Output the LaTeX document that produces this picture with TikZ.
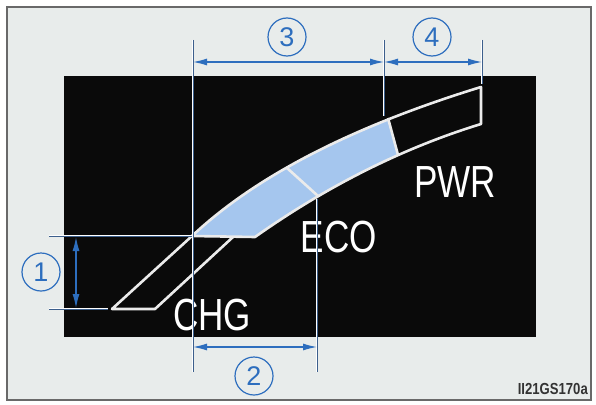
\documentclass[tikz,border=0pt]{standalone}
\usepackage{fontspec}
\setmainfont{Liberation Sans}
\newfontfamily\gaugefont[FakeStretch=0.78]{Liberation Sans}
\newfontfamily\codefont[FakeStretch=0.82]{Liberation Sans}
\usetikzlibrary{arrows.meta}
\definecolor{framegray}{RGB}{105,105,105}
\definecolor{panelbg}{RGB}{232,236,235}
\definecolor{gaugeblue}{RGB}{165,198,238}
\definecolor{dimblue}{RGB}{45,110,190}
\definecolor{dimgrey}{RGB}{60,95,140}

\begin{document}
\begin{tikzpicture}[x=1pt,y=-1pt,
    dimline/.style={draw=dimgrey, line width=0.8pt, preaction={draw=white, line width=1.8pt}},
    dimarrow/.style={{Latex[length=14pt,width=7pt]}-{Latex[length=14pt,width=7pt]}, draw=dimblue, line width=1.2pt},
    callout/.style={circle, draw=dimblue, line width=1.2pt, minimum size=38pt, inner sep=0pt, text=dimblue, font=\fontsize{27}{27}\selectfont},
    modelabel/.style={text=white, inner sep=0pt, anchor=base, font=\gaugefont\fontsize{45}{45}\selectfont},
    segline/.style={draw=white!92!black, line width=2.6pt, line join=round}]
    \useasboundingbox (0,0) rectangle (596,404);
    \draw[draw=framegray, line width=2pt, fill=panelbg] (7,7) rectangle (591,400);
    \fill[black!96] (64,76) rectangle (536,337);

    % gauge strip
    \coordinate (chgA) at (112,309);
    \coordinate (chgB) at (155,309);
    \coordinate (chgC) at (233,237);
    \coordinate (topL) at (192,236);
    \coordinate (botL) at (255,237);
    \coordinate (topR) at (481,87);
    \coordinate (botR) at (481,124);
    \coordinate (d1t) at (287,168);
    \coordinate (d1b) at (318,196);
    \coordinate (d2t) at (388,118);
    \coordinate (d2b) at (398,155);

    \begin{scope}
        \clip (0,0) -- (356,0) -- (437,300) -- (0,300) -- cycle;
        \fill[gaugeblue] (topL) .. controls (257,175) and (354,126) .. (topR) -- (botR)
            .. controls (406,147) and (330,184) .. (botL) -- cycle;
    \end{scope}
    \draw[segline] (topL) .. controls (257,175) and (354,126) .. (topR) -- (botR)
        .. controls (406,147) and (330,184) .. (botL) -- cycle;
    \draw[segline] (topL) -- (chgA) -- (chgB) -- (chgC);
    \draw[segline] (d1t) -- (d1b);
    \draw[segline] (d2t) -- (d2b);

    % labels
    \node[modelabel] (chg) at (212,330) {CHG};
    \node[modelabel] (eco) at (339,252) {ECO};
    \node[modelabel] (pwr) at (455,197) {PWR};

    % dimension lines
    \coordinate (x1t) at (193,40);
    \coordinate (x1b) at (193,372);
    \coordinate (x2t) at (317,199);
    \coordinate (x2b) at (317,372);
    \coordinate (x3t) at (384,40);
    \coordinate (x3b) at (384,116);
    \coordinate (x4t) at (482,40);
    \coordinate (x4b) at (482,84);
    \coordinate (h1l) at (49,236);
    \coordinate (h2l) at (49,309);
    \coordinate (h2r) at (108,309);
    \draw[dimline] (x1t) -- (x1b);
    \draw[dimline] (x2t) -- (x2b);
    \draw[dimline] (x3t) -- (x3b);
    \draw[dimline] (x4t) -- (x4b);
    \draw[dimline] (h1l) -- (topL);
    \draw[dimline] (h2l) -- (h2r);

    \coordinate (a1t) at (76,237);
    \coordinate (a1b) at (76,308);
    \coordinate (a2l) at (193,347);
    \coordinate (a2r) at (317,347);
    \coordinate (a3l) at (193,62);
    \coordinate (a3r) at (384,62);
    \coordinate (a4r) at (482,62);
    \draw[dimarrow] (a1t) -- (a1b);
    \draw[dimarrow] (a2l) -- (a2r);
    \draw[dimarrow] (a3l) -- (a3r);
    \draw[dimarrow] (a3r) -- (a4r);

    \node[callout] (n1) at (41,272) {1};
    \node[callout] (n2) at (254,376) {2};
    \node[callout] (n3) at (287,37) {3};
    \node[callout] (n4) at (432,37) {4};

    \node[anchor=base east, inner sep=0pt, text=black!80, font=\codefont\bfseries\fontsize{16}{16}\selectfont] (code) at (588,394) {II21GS170a};
\end{tikzpicture}
\end{document}
